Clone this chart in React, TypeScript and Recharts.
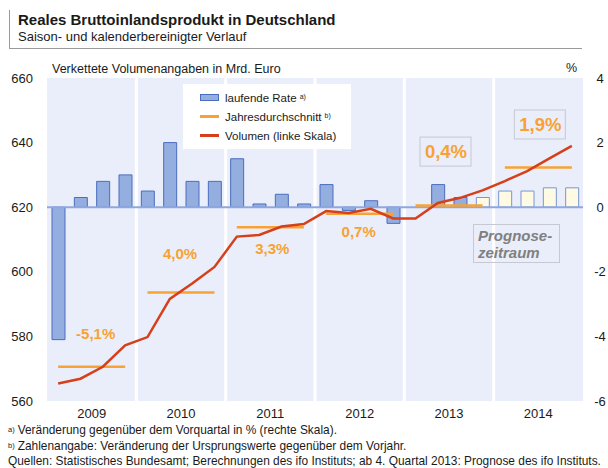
import React from 'react';
import {
  Bar,
  CartesianGrid,
  Cell,
  ComposedChart,
  Legend,
  Line,
  ReferenceDot,
  ReferenceLine,
  XAxis,
  YAxis,
} from 'recharts';

// Reales BIP Deutschland, 2009 Q1 – 2014 Q4 (ab 2013 Q4 Prognose)
const years = ['2009', '2010', '2011', '2012', '2013', '2014'];
const quarterlyRate = [
  -4.1, 0.3, 0.8, 1.0,
  0.5, 2.0, 0.8, 0.8,
  1.5, 0.1, 0.4, 0.1,
  0.7, -0.1, 0.2, -0.5,
  0.0, 0.7, 0.3, 0.3,
  0.5, 0.5, 0.6, 0.6,
];
const volume = [
  565.4, 566.9, 570.6, 577.2,
  579.8, 591.6, 596.4, 601.5,
  610.9, 611.4, 614.0, 614.8,
  618.8, 618.2, 619.5, 616.5,
  616.5, 621.3, 622.9, 625.2,
  628.1, 631.2, 635.1, 639.0,
];
const annualAverage = [570.6, 593.6, 613.8, 618.0, 620.5, 632.3];
const annualGrowth = [-5.1, 4.0, 3.3, 0.7, 0.4, 1.9];
const forecastFrom = '2013 Q4';
const leftTicks = [560, 580, 600, 620, 640, 660];
const rightTicks = [-6, -4, -2, 0, 2, 4];

// label placement relative to the yearly average line (px)
const growthLabelDx = [4, -1, 2, -1, -3, 2];
const growthLabelDy = [-33, -39, 21, 18, -54, -43];
const growthLabelBoxed = [false, false, false, false, true, true];

const quarters = years.flatMap((y) => [1, 2, 3, 4].map((q) => `${y} Q${q}`));
const forecastIndex = quarters.indexOf(forecastFrom);

const data = quarters.map((label, i) => {
  const yi = Math.floor(i / 4);
  return {
    label,
    pos: i + 0.5,
    rate: quarterlyRate[i],
    volume: volume[i],
    [`avg${years[yi]}`]: annualAverage[yi],
  };
});

const FONT = '"Liberation Sans", Arial, Helvetica, sans-serif';
const ORANGE = '#F7A233';
const RED = '#D5401B';
const BAR_FILL = '#95AEE0';
const BAR_STROKE = '#4A6DBF';

const fmtPct = (v: number) => `${v.toFixed(1).replace('.', ',')}%`;

function GrowthLabel(props: any) {
  const { viewBox, text, dx, dy, boxed } = props;
  const cx = viewBox.x + (viewBox.width || 0) / 2 + dx;
  const cy = viewBox.y + (viewBox.height || 0) / 2 + dy;
  const size = boxed ? 18.5 : 15;
  return (
    <g>
      {boxed && (
        <rect x={cx - 26} y={cy - 14.5} width={51} height={29} fill="none" stroke="#C6C8D2" strokeWidth={1} />
      )}
      <text
        x={cx}
        y={cy}
        textAnchor="middle"
        dominantBaseline="central"
        fill={ORANGE}
        fontSize={size}
        fontWeight="bold"
        fontFamily={FONT}
      >
        {text}
      </text>
    </g>
  );
}

function LegendBox() {
  const row = { display: 'flex', alignItems: 'center', height: 19 } as const;
  const sup = { fontSize: 7, verticalAlign: 'top', marginLeft: 3, position: 'relative', top: -1 } as const;
  return (
    <div
      style={{
        background: '#fff',
        width: 168,
        height: 65,
        boxSizing: 'border-box',
        padding: '4px 0 0 17px',
        fontFamily: FONT,
        fontSize: 11.5,
        color: '#1a1a1a',
      }}
    >
      <div style={row}>
        <span style={{ width: 17, height: 5, background: BAR_FILL, border: `1px solid ${BAR_STROKE}`, marginRight: 6 }} />
        laufende Rate<span style={sup}>a)</span>
      </div>
      <div style={row}>
        <span style={{ width: 19, height: 3, background: ORANGE, marginRight: 6 }} />
        Jahresdurchschnitt<span style={sup}>b)</span>
      </div>
      <div style={row}>
        <span style={{ width: 19, height: 3, background: RED, marginRight: 6 }} />
        Volumen (linke Skala)
      </div>
    </div>
  );
}

function RightTick(props: any) {
  const { x, y, payload } = props;
  return (
    <text x={x} y={y} dy={4.5} textAnchor="middle" fill="#1a1a1a" fontSize={13} fontFamily={FONT}>
      {payload.value}
    </text>
  );
}

export default function App() {
  const supStyle = { fontSize: 7.5, verticalAlign: 'top', position: 'relative', top: -1, marginRight: 3 } as const;
  return (
    <div
      style={{
        position: 'absolute',
        left: 0,
        top: 0,
        width: 608,
        height: 468,
        background: '#fff',
        fontFamily: FONT,
        color: '#1a1a1a',
      }}
    >
      <div style={{ position: 'absolute', left: 9, top: 10, width: 1, height: 38, background: '#9a9a9a' }} />
      <div style={{ position: 'absolute', left: 9, top: 48, width: 573, height: 1, background: '#9a9a9a' }} />
      <div style={{ position: 'absolute', left: 18, top: 11, fontSize: 15, lineHeight: '17px', fontWeight: 'bold' }}>
        Reales Bruttoinlandsprodukt in Deutschland
      </div>
      <div style={{ position: 'absolute', left: 18, top: 29, fontSize: 13, lineHeight: '15px' }}>
        Saison- und kalenderbereinigter Verlauf
      </div>
      <div style={{ position: 'absolute', left: 52, top: 62, fontSize: 12.5, lineHeight: '15px' }}>
        Verkettete Volumenangaben in Mrd. Euro
      </div>
      <div style={{ position: 'absolute', left: 566, top: 61, fontSize: 12.5, lineHeight: '15px' }}>%</div>

      <ComposedChart width={608} height={468} data={data} margin={{ top: 78, right: 0, bottom: 37, left: 0 }}>
        <CartesianGrid
          xAxisId="q"
          yAxisId="left"
          horizontal={false}
          verticalValues={[4, 8, 12, 16, 20]}
          stroke="#fff"
          strokeWidth={3}
          fill="#EAEEFA"
          fillOpacity={1}
        />
        <XAxis
          xAxisId="q"
          type="number"
          dataKey="pos"
          domain={[0, quarters.length]}
          ticks={years.map((_, i) => i * 4 + 2)}
          tickFormatter={(v) => years[(Number(v) - 2) / 4]}
          axisLine={false}
          tickLine={false}
          height={30}
          tick={{ fontSize: 13, fill: '#1a1a1a', fontFamily: FONT }}
        />
        <YAxis
          yAxisId="left"
          domain={[560, 660]}
          ticks={leftTicks}
          axisLine={false}
          tickLine={false}
          width={47}
          tickMargin={8}
          tick={{ fontSize: 13, fill: '#1a1a1a', fontFamily: FONT }}
        />
        <YAxis
          yAxisId="right"
          orientation="right"
          domain={[-6, 4]}
          ticks={rightTicks}
          axisLine={false}
          tickLine={false}
          width={25}
          tickMargin={11}
          tick={<RightTick />}
        />
        <ReferenceLine xAxisId="q" yAxisId="right" y={0} stroke="#8EA8DE" strokeWidth={2} />
        <Bar xAxisId="q" yAxisId="right" dataKey="rate" barSize={13} isAnimationActive={false} strokeWidth={1}>
          {data.map((d, i) => (
            <Cell
              key={d.label}
              fill={i >= forecastIndex ? '#FFFBE2' : BAR_FILL}
              stroke={i >= forecastIndex ? '#7895D5' : BAR_STROKE}
            />
          ))}
        </Bar>
        {years.map((y) => (
          <Line
            key={y}
            xAxisId="q"
            yAxisId="left"
            dataKey={`avg${y}`}
            stroke={ORANGE}
            strokeWidth={2.5}
            dot={false}
            activeDot={false}
            isAnimationActive={false}
          />
        ))}
        <Line
          xAxisId="q"
          yAxisId="left"
          dataKey="volume"
          type="linear"
          stroke={RED}
          strokeWidth={2.5}
          dot={false}
          activeDot={false}
          isAnimationActive={false}
        />
        {years.map((y, i) => (
          <ReferenceDot
            key={`lbl${y}`}
            xAxisId="q"
            yAxisId="left"
            x={i * 4 + 2}
            y={annualAverage[i]}
            r={0}
            fill="none"
            stroke="none"
            label={
              <GrowthLabel
                text={fmtPct(annualGrowth[i])}
                dx={growthLabelDx[i]}
                dy={growthLabelDy[i]}
                boxed={growthLabelBoxed[i]}
              />
            }
          />
        ))}
        <Legend
          layout="horizontal"
          verticalAlign="middle"
          content={<LegendBox />}
          wrapperStyle={{ left: 183, top: 84, width: 168, height: 65 }}
        />
      </ComposedChart>

      <div
        style={{
          position: 'absolute',
          left: 473,
          top: 224,
          width: 87,
          height: 39,
          boxSizing: 'border-box',
          border: '1px solid #C6C8D2',
          padding: '2px 0 0 4px',
          color: '#808080',
          fontSize: 15,
          lineHeight: '17px',
          fontWeight: 'bold',
          fontStyle: 'italic',
        }}
      >
        Prognose-
        <br />
        zeitraum
      </div>

      <div style={{ position: 'absolute', left: 8, top: 423, fontSize: 11.9, lineHeight: '15.5px', whiteSpace: 'nowrap' }}>
        <div>
          <span style={supStyle}>a)</span>Veränderung gegenüber dem Vorquartal in % (rechte Skala).
        </div>
        <div>
          <span style={supStyle}>b)</span>Zahlenangabe: Veränderung der Ursprungswerte gegenüber dem Vorjahr.
        </div>
        <div>Quellen: Statistisches Bundesamt; Berechnungen des ifo Instituts; ab 4. Quartal 2013: Prognose des ifo Instituts.</div>
      </div>
    </div>
  );
}
